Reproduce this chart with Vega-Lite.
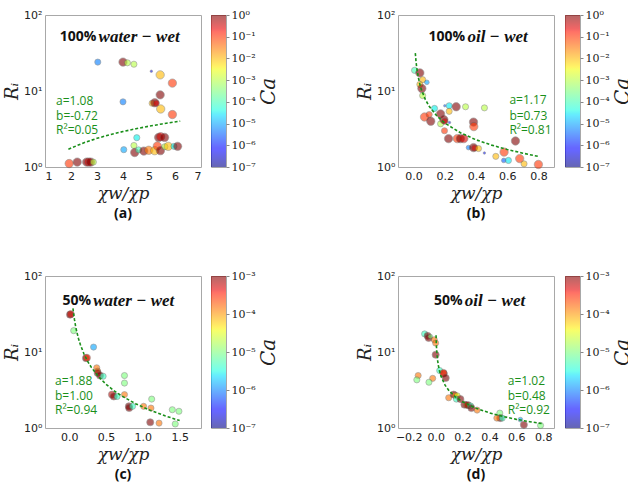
{
"$schema": "https://vega.github.io/schema/vega-lite/v6.json",
"padding": {"left": 3, "top": 8, "right": 0, "bottom": 0},
"background": "white",
"config": {
  "view": {"stroke": "#a8a8a8"},
  "axis": {"grid": false, "domain": false, "ticks": false, "labelFont": "DejaVu Sans", "labelFontSize": 11, "labelColor": "#222", "titleColor": "#222", "labelPadding": 3}
},
"resolve": {"scale": {"color": "independent", "size": "independent"}},
"datasets": {
  "pa": [
    {"x":3.03,"r":24,"ca":5e-6,"m":2},{"x":4.0,"r":24,"ca":1,"m":3},{"x":4.17,"r":23.5,"ca":1e-3,"m":2},{"x":4.42,"r":22.5,"ca":1e-3,"m":2},
    {"x":5.09,"r":18.2,"ca":5e-7,"m":1},{"x":5.43,"r":16.3,"ca":0.01,"m":3},{"x":5.9,"r":12.7,"ca":0.1,"m":3},{"x":5.43,"r":8.9,"ca":1,"m":3},
    {"x":4.0,"r":7.2,"ca":5e-6,"m":2},{"x":5.12,"r":6.9,"ca":0.01,"m":2},{"x":5.22,"r":7.0,"ca":1,"m":3},{"x":5.28,"r":6.9,"ca":0.3,"m":2},
    {"x":5.45,"r":5.8,"ca":0.01,"m":3},{"x":5.9,"r":4.9,"ca":0.1,"m":3},{"x":4.53,"r":2.43,"ca":4e-5,"m":2},{"x":5.37,"r":2.45,"ca":1,"m":3},
    {"x":5.45,"r":2.5,"ca":0.3,"m":3},{"x":5.6,"r":2.45,"ca":1,"m":3},{"x":4.03,"r":1.69,"ca":1e-5,"m":2},{"x":4.42,"r":1.92,"ca":1e-3,"m":2},
    {"x":4.45,"r":1.55,"ca":1,"m":3},{"x":4.6,"r":1.68,"ca":1e-4,"m":2},{"x":4.8,"r":1.62,"ca":1,"m":3},{"x":4.99,"r":1.66,"ca":0.03,"m":3},
    {"x":5.22,"r":1.64,"ca":0.01,"m":3},{"x":5.32,"r":1.89,"ca":0.1,"m":3},{"x":5.44,"r":1.64,"ca":1,"m":3},{"x":5.61,"r":1.85,"ca":1e-3,"m":2},
    {"x":5.74,"r":1.87,"ca":0.01,"m":3},{"x":5.96,"r":1.87,"ca":4e-5,"m":2},{"x":6.1,"r":1.87,"ca":1,"m":3},{"x":1.93,"r":1.11,"ca":0.1,"m":3},
    {"x":2.24,"r":1.16,"ca":1,"m":3},{"x":2.6,"r":1.16,"ca":1,"m":3},{"x":2.68,"r":1.16,"ca":0.3,"m":3},{"x":2.76,"r":1.16,"ca":1,"m":3},
    {"x":2.86,"r":1.16,"ca":1e-3,"m":2}
  ],
  "pb": [
    {"x":0.006,"r":18.7,"ca":1e-4,"m":2},{"x":0.04,"r":17.3,"ca":1,"m":3},{"x":0.058,"r":14.1,"ca":0.01,"m":2},{"x":0.085,"r":13,"ca":1e-5,"m":1.5},
    {"x":0.04,"r":12.2,"ca":0.01,"m":2},{"x":0.053,"r":10.8,"ca":1,"m":3},{"x":0.058,"r":8.7,"ca":1e-3,"m":2},{"x":0.134,"r":5.9,"ca":4e-5,"m":2},
    {"x":0.2,"r":6.4,"ca":3e-6,"m":1},{"x":0.228,"r":6.4,"ca":3e-5,"m":2},{"x":0.273,"r":6.2,"ca":1,"m":3},{"x":0.333,"r":6.2,"ca":1e-3,"m":2},
    {"x":0.454,"r":6.0,"ca":1e-3,"m":2},{"x":0.07,"r":4.55,"ca":0.1,"m":3},{"x":0.1,"r":4.9,"ca":0.1,"m":2},{"x":0.11,"r":4.0,"ca":1,"m":3},
    {"x":0.173,"r":5.0,"ca":1,"m":3},{"x":0.173,"r":3.7,"ca":1e-3,"m":2},{"x":0.194,"r":4.2,"ca":1,"m":3},{"x":0.2,"r":4.0,"ca":0.3,"m":2},
    {"x":0.228,"r":5.4,"ca":0.01,"m":2},{"x":0.198,"r":3.0,"ca":0.1,"m":2},{"x":0.384,"r":3.9,"ca":1,"m":3},{"x":0.386,"r":3.4,"ca":0.1,"m":3},
    {"x":0.224,"r":2.36,"ca":1,"m":3},{"x":0.28,"r":2.36,"ca":0.1,"m":3},{"x":0.3,"r":2.36,"ca":1,"m":3},{"x":0.322,"r":2.36,"ca":0.3,"m":3},
    {"x":0.352,"r":1.8,"ca":5e-6,"m":1.5},{"x":0.384,"r":1.8,"ca":1,"m":3},{"x":0.39,"r":1.78,"ca":0.3,"m":2},{"x":0.416,"r":1.75,"ca":0.01,"m":2},
    {"x":0.454,"r":1.53,"ca":1e-6,"m":1},{"x":0.23,"r":3.85,"ca":1e-6,"m":1},{"x":0.653,"r":2.2,"ca":1,"m":3},{"x":0.58,"r":1.57,"ca":0.1,"m":3},
    {"x":0.527,"r":1.38,"ca":0.01,"m":2},{"x":0.578,"r":1.22,"ca":3e-6,"m":1.5},{"x":0.608,"r":1.22,"ca":3e-5,"m":2},{"x":0.68,"r":1.29,"ca":0.1,"m":3},
    {"x":0.708,"r":1.1,"ca":0.01,"m":2},{"x":0.8,"r":1.08,"ca":0.1,"m":3}
  ],
  "pc": [
    {"x":0.01,"r":31,"ca":1e-3,"m":2.4},{"x":0.02,"r":31.5,"ca":5e-4,"m":2.4},{"x":0.06,"r":19.1,"ca":1e-5,"m":2},{"x":0.33,"r":11.6,"ca":1.3e-6,"m":2},
    {"x":0.227,"r":8.3,"ca":1e-3,"m":2.4},{"x":0.24,"r":8.4,"ca":3e-4,"m":2.4},{"x":0.373,"r":6.2,"ca":1.6e-4,"m":2},{"x":0.386,"r":5.6,"ca":1.6e-4,"m":2},
    {"x":0.386,"r":5.3,"ca":1e-3,"m":2.4},{"x":0.418,"r":4.9,"ca":1e-3,"m":2.4},{"x":0.46,"r":4.8,"ca":5e-6,"m":2},{"x":0.75,"r":4.9,"ca":1e-5,"m":2},
    {"x":0.75,"r":3.9,"ca":1e-5,"m":2},{"x":0.75,"r":2.75,"ca":1.6e-4,"m":2},{"x":0.58,"r":2.75,"ca":6e-4,"m":2.4},{"x":0.605,"r":2.6,"ca":1e-3,"m":2.4},
    {"x":0.65,"r":2.6,"ca":5e-6,"m":2},{"x":0.81,"r":1.93,"ca":1e-3,"m":2.4},{"x":0.814,"r":1.83,"ca":1e-3,"m":2.4},{"x":0.86,"r":1.93,"ca":5e-6,"m":2},
    {"x":1.01,"r":1.93,"ca":1.6e-4,"m":2},{"x":1.11,"r":1.83,"ca":1.6e-4,"m":2},{"x":1.12,"r":2.4,"ca":1e-5,"m":2},{"x":1.1,"r":1.19,"ca":1e-3,"m":2.4},
    {"x":1.22,"r":1.16,"ca":1.6e-4,"m":2},{"x":1.4,"r":1.74,"ca":1e-5,"m":2},{"x":1.49,"r":1.66,"ca":1e-5,"m":2},{"x":1.44,"r":1.13,"ca":1e-5,"m":2}
  ],
  "pd": [
    {"x":-0.082,"r":17.3,"ca":5e-6,"m":2},{"x":-0.06,"r":16.3,"ca":1e-3,"m":2.4},{"x":-0.052,"r":15.3,"ca":1e-3,"m":2.4},{"x":-0.04,"r":16,"ca":1e-5,"m":1.5},
    {"x":-0.01,"r":14.5,"ca":1.6e-4,"m":2},{"x":0.0,"r":13.1,"ca":1.6e-4,"m":2},{"x":0.0,"r":9.2,"ca":1e-3,"m":2.4},{"x":-0.13,"r":4.9,"ca":1.6e-4,"m":2},
    {"x":-0.14,"r":4.3,"ca":1e-5,"m":2},{"x":-0.022,"r":4.5,"ca":1.6e-4,"m":2},{"x":-0.05,"r":4.0,"ca":1e-5,"m":2},{"x":0.03,"r":5.7,"ca":5e-6,"m":2},
    {"x":0.06,"r":5.2,"ca":1e-3,"m":2.4},{"x":0.058,"r":5.3,"ca":3e-4,"m":2.4},{"x":0.075,"r":4.55,"ca":1e-3,"m":2.4},{"x":0.097,"r":2.5,"ca":1.6e-4,"m":2},
    {"x":0.134,"r":2.75,"ca":1e-3,"m":2.4},{"x":0.145,"r":2.7,"ca":1.6e-4,"m":2},{"x":0.16,"r":2.65,"ca":3e-5,"m":2},{"x":0.154,"r":2.4,"ca":5e-6,"m":2},
    {"x":0.184,"r":2.4,"ca":1e-3,"m":2.4},{"x":0.214,"r":2.03,"ca":1e-3,"m":2.4},{"x":0.23,"r":2.0,"ca":1.6e-4,"m":2},{"x":0.24,"r":2.0,"ca":1e-3,"m":2.4},
    {"x":0.26,"r":1.95,"ca":5e-6,"m":2},{"x":0.266,"r":1.83,"ca":1e-3,"m":2.4},{"x":0.308,"r":1.72,"ca":1.6e-4,"m":2},{"x":0.477,"r":1.57,"ca":1e-5,"m":2},
    {"x":0.48,"r":1.35,"ca":1e-3,"m":2.4},{"x":0.455,"r":1.35,"ca":1.6e-4,"m":2},{"x":0.495,"r":1.35,"ca":5e-6,"m":2},{"x":0.63,"r":1.29,"ca":1.3e-6,"m":1.5},
    {"x":0.656,"r":1.1,"ca":1e-3,"m":2.4},{"x":0.78,"r":1.08,"ca":1e-5,"m":2}
  ],
  "fa": [{"x":1.9,"r":1.714},{"x":2.5,"r":2.089},{"x":3,"r":2.382},{"x":3.5,"r":2.662},{"x":4,"r":2.93},{"x":4.5,"r":3.19},{"x":5,"r":3.441},{"x":5.5,"r":3.685},{"x":6.2,"r":4.018}],
  "fb": [{"x":0.011,"r":31.5},{"x":0.015,"r":25.1},{"x":0.02,"r":20.35},{"x":0.03,"r":15.13},{"x":0.04,"r":12.27},{"x":0.05,"r":10.42},{"x":0.075,"r":7.75},{"x":0.1,"r":6.28},{"x":0.15,"r":4.67},{"x":0.2,"r":3.79},{"x":0.3,"r":2.82},{"x":0.4,"r":2.28},{"x":0.5,"r":1.94},{"x":0.6,"r":1.7},{"x":0.7,"r":1.52},{"x":0.8,"r":1.377}],
  "fc": [{"x":0.05,"r":37.6},{"x":0.06,"r":31.33},{"x":0.07,"r":26.86},{"x":0.085,"r":22.12},{"x":0.1,"r":18.8},{"x":0.125,"r":15.04},{"x":0.15,"r":12.53},{"x":0.2,"r":9.4},{"x":0.25,"r":7.52},{"x":0.3,"r":6.27},{"x":0.4,"r":4.7},{"x":0.5,"r":3.76},{"x":0.6,"r":3.133},{"x":0.7,"r":2.686},{"x":0.9,"r":2.089},{"x":1.1,"r":1.709},{"x":1.3,"r":1.446},{"x":1.5,"r":1.253}],
  "fd": [{"x":0.003,"r":16.58},{"x":0.004,"r":14.44},{"x":0.005,"r":12.98},{"x":0.007,"r":11.04},{"x":0.01,"r":9.3},{"x":0.015,"r":7.66},{"x":0.02,"r":6.67},{"x":0.03,"r":5.49},{"x":0.04,"r":4.78},{"x":0.07,"r":3.66},{"x":0.1,"r":3.08},{"x":0.15,"r":2.54},{"x":0.2,"r":2.21},{"x":0.3,"r":1.82},{"x":0.4,"r":1.58},{"x":0.5,"r":1.42},{"x":0.6,"r":1.3},{"x":0.7,"r":1.21},{"x":0.8,"r":1.135}]
},
"vconcat": [
 {"resolve": {"scale": {"color": "independent", "size": "independent"}},
  "hconcat": [
  {"resolve": {"scale": {"color": "independent", "size": "independent"}},
   "hconcat": [
   {"width":156,"height":152,
    "title":{"text":"(a)","orient":"bottom","font":"Open Sans","fontWeight":"bold","fontSize":14,"color":"#111","offset":6},
    "encoding":{
      "x":{"field":"x","type":"quantitative","scale":{"domain":[1,7],"nice":false},"axis":{"values":[1,2,3,4,5,6,7],"format":"d","title":"χw/χp","titleFont":"DejaVu Serif","titleFontStyle":"italic","titleFontWeight":"normal","titleFontSize":17,"titlePadding":4}},
      "y":{"field":"r","type":"quantitative","scale":{"type":"log","domain":[1,100]},"axis":{"values":[1,10,100],"labelExpr":"datum.value < 5 ? '10⁰' : datum.value < 50 ? '10¹' : '10²'","title":"Rᵢ","titleFont":"DejaVu Serif","titleFontStyle":"italic","titleFontWeight":"normal","titleFontSize":18,"titlePadding":2}}
    },
    "layer":[
     {"data":{"name":"pa"},"mark":{"type":"circle","opacity":0.6,"stroke":"#555","strokeWidth":0.6},
      "encoding":{"color":{"field":"ca","type":"quantitative","legend":null,"scale":{"type":"log","domain":[1e-7,3.162e-7,1e-6,3.162e-6,1e-5,3.162e-5,1e-4,3.162e-4,1e-3,3.162e-3,1e-2,3.162e-2,0.1,0.3162,1],"range":["#000080","#0000d2","#0012ff","#005bff","#00a4ff","#06edf1","#41ffb6","#7bff7b","#b6ff41","#f1fc06","#ffb900","#ff7500","#ff3200","#d20000","#800000"]}},
       "size":{"field":"m","type":"quantitative","legend":null,"scale":{"domain":[1,3],"range":[6,70]}}}},
     {"data":{"name":"fa"},"mark":{"type":"line","color":"#1a8f1a","strokeDash":[3,2],"strokeWidth":1.6},"encoding":{}},
     {"data":{"values":[{"x":2.98,"r":52,"t":"100%"}]},"mark":{"type":"text","align":"right","baseline":"middle","font":"Open Sans","fontWeight":"bold","fontSize":14,"color":"#111"},"encoding":{"text":{"field":"t"}}},
     {"data":{"values":[{"x":3.06,"r":52,"t":"water − wet"}]},"mark":{"type":"text","align":"left","baseline":"middle","font":"Liberation Serif","fontStyle":"italic","fontWeight":"bold","fontSize":17,"color":"#111"},"encoding":{"text":{"field":"t"}}},
     {"data":{"values":[{"x":1.425,"r":7.38,"t":"a=1.08"},{"x":1.425,"r":4.65,"t":"b=-0.72"},{"x":1.425,"r":3.1,"t":"R²=0.05"}]},"mark":{"type":"text","align":"left","baseline":"middle","font":"Open Sans","fontSize":12,"color":"#1a8f1a"},"encoding":{"text":{"field":"t"}}}
    ]},
   {"width":15,"height":152,"data":{"values":[{"lo":1e-7,"hi":1}]},
    "mark":{"type":"rect","fillOpacity":0.6,"fill":{"gradient":"linear","x1":0,"y1":1,"x2":0,"y2":0,"stops":[{"offset":0,"color":"#000080"},{"offset":0.11,"color":"#0000ff"},{"offset":0.125,"color":"#0000ff"},{"offset":0.34,"color":"#00dbff"},{"offset":0.35,"color":"#00e6f7"},{"offset":0.375,"color":"#15ffe2"},{"offset":0.5,"color":"#7bff7b"},{"offset":0.64,"color":"#efff08"},{"offset":0.66,"color":"#ffec00"},{"offset":0.89,"color":"#ff1300"},{"offset":0.91,"color":"#e80000"},{"offset":1,"color":"#800000"}]}},
    "encoding":{"y":{"field":"lo","type":"quantitative","scale":{"type":"log","domain":[1e-7,1]},"axis":{"orient":"right","values":[1e-7,1e-6,1e-5,1e-4,1e-3,1e-2,1e-1,1],"labelExpr":"'10' + ['⁻⁷','⁻⁶','⁻⁵','⁻⁴','⁻³','⁻²','⁻¹','⁰'][round(log(datum.value)/LN10)+7]","labelFont":"DejaVu Serif","labelFontSize":11,"ticks":true,"tickSize":3,"tickColor":"#888","labelPadding":2,"title":"Ca","titleFont":"DejaVu Serif","titleFontStyle":"italic","titleFontWeight":"normal","titleFontSize":20,"titleAngle":270,"titleBaseline":"top","titlePadding":3}},
      "y2":{"field":"hi"}}}
  ], "spacing": 10, "bounds": "flush"},
  {"resolve": {"scale": {"color": "independent", "size": "independent"}},
   "hconcat": [
   {"width":156,"height":152,
    "title":{"text":"(b)","orient":"bottom","font":"Open Sans","fontWeight":"bold","fontSize":14,"color":"#111","offset":6},
    "encoding":{
      "x":{"field":"x","type":"quantitative","scale":{"domain":[-0.1,0.9],"nice":false},"axis":{"values":[0,0.2,0.4,0.6,0.8],"format":".1f","title":"χw/χp","titleFont":"DejaVu Serif","titleFontStyle":"italic","titleFontWeight":"normal","titleFontSize":17,"titlePadding":4}},
      "y":{"field":"r","type":"quantitative","scale":{"type":"log","domain":[1,100]},"axis":{"values":[1,10,100],"labelExpr":"datum.value < 5 ? '10⁰' : datum.value < 50 ? '10¹' : '10²'","title":"Rᵢ","titleFont":"DejaVu Serif","titleFontStyle":"italic","titleFontWeight":"normal","titleFontSize":18,"titlePadding":2}}
    },
    "layer":[
     {"data":{"name":"pb"},"mark":{"type":"circle","opacity":0.6,"stroke":"#555","strokeWidth":0.6},
      "encoding":{"color":{"field":"ca","type":"quantitative","legend":null,"scale":{"type":"log","domain":[1e-7,3.162e-7,1e-6,3.162e-6,1e-5,3.162e-5,1e-4,3.162e-4,1e-3,3.162e-3,1e-2,3.162e-2,0.1,0.3162,1],"range":["#000080","#0000d2","#0012ff","#005bff","#00a4ff","#06edf1","#41ffb6","#7bff7b","#b6ff41","#f1fc06","#ffb900","#ff7500","#ff3200","#d20000","#800000"]}},
       "size":{"field":"m","type":"quantitative","legend":null,"scale":{"domain":[1,3],"range":[6,70]}}}},
     {"data":{"name":"fb"},"mark":{"type":"line","color":"#1a8f1a","strokeDash":[3,2],"strokeWidth":1.6},"encoding":{}},
     {"data":{"values":[{"x":0.33,"r":52,"t":"100%"}]},"mark":{"type":"text","align":"right","baseline":"middle","font":"Open Sans","fontWeight":"bold","fontSize":14,"color":"#111"},"encoding":{"text":{"field":"t"}}},
     {"data":{"values":[{"x":0.345,"r":52,"t":"oil − wet"}]},"mark":{"type":"text","align":"left","baseline":"middle","font":"Liberation Serif","fontStyle":"italic","fontWeight":"bold","fontSize":17,"color":"#111"},"encoding":{"text":{"field":"t"}}},
     {"data":{"values":[{"x":0.614,"r":7.6,"t":"a=1.17"},{"x":0.614,"r":4.75,"t":"b=0.73"},{"x":0.614,"r":3.1,"t":"R²=0.81"}]},"mark":{"type":"text","align":"left","baseline":"middle","font":"Open Sans","fontSize":12,"color":"#1a8f1a"},"encoding":{"text":{"field":"t"}}}
    ]},
   {"width":15,"height":152,"data":{"values":[{"lo":1e-7,"hi":1}]},
    "mark":{"type":"rect","fillOpacity":0.6,"fill":{"gradient":"linear","x1":0,"y1":1,"x2":0,"y2":0,"stops":[{"offset":0,"color":"#000080"},{"offset":0.11,"color":"#0000ff"},{"offset":0.125,"color":"#0000ff"},{"offset":0.34,"color":"#00dbff"},{"offset":0.35,"color":"#00e6f7"},{"offset":0.375,"color":"#15ffe2"},{"offset":0.5,"color":"#7bff7b"},{"offset":0.64,"color":"#efff08"},{"offset":0.66,"color":"#ffec00"},{"offset":0.89,"color":"#ff1300"},{"offset":0.91,"color":"#e80000"},{"offset":1,"color":"#800000"}]}},
    "encoding":{"y":{"field":"lo","type":"quantitative","scale":{"type":"log","domain":[1e-7,1]},"axis":{"orient":"right","values":[1e-7,1e-6,1e-5,1e-4,1e-3,1e-2,1e-1,1],"labelExpr":"'10' + ['⁻⁷','⁻⁶','⁻⁵','⁻⁴','⁻³','⁻²','⁻¹','⁰'][round(log(datum.value)/LN10)+7]","labelFont":"DejaVu Serif","labelFontSize":11,"ticks":true,"tickSize":3,"tickColor":"#888","labelPadding":2,"title":"Ca","titleFont":"DejaVu Serif","titleFontStyle":"italic","titleFontWeight":"normal","titleFontSize":20,"titleAngle":270,"titleBaseline":"top","titlePadding":3}},
      "y2":{"field":"hi"}}}
  ], "spacing": 11, "bounds": "flush"}
 ], "spacing": 77},
 {"resolve": {"scale": {"color": "independent", "size": "independent"}},
  "hconcat": [
  {"resolve": {"scale": {"color": "independent", "size": "independent"}},
   "hconcat": [
   {"width":156,"height":152,
    "title":{"text":"(c)","orient":"bottom","font":"Open Sans","fontWeight":"bold","fontSize":14,"color":"#111","offset":6},
    "encoding":{
      "x":{"field":"x","type":"quantitative","scale":{"domain":[-0.33,1.79],"nice":false},"axis":{"values":[0,0.5,1,1.5],"format":".1f","title":"χw/χp","titleFont":"DejaVu Serif","titleFontStyle":"italic","titleFontWeight":"normal","titleFontSize":17,"titlePadding":4}},
      "y":{"field":"r","type":"quantitative","scale":{"type":"log","domain":[1,100]},"axis":{"values":[1,10,100],"labelExpr":"datum.value < 5 ? '10⁰' : datum.value < 50 ? '10¹' : '10²'","title":"Rᵢ","titleFont":"DejaVu Serif","titleFontStyle":"italic","titleFontWeight":"normal","titleFontSize":18,"titlePadding":2}}
    },
    "layer":[
     {"data":{"name":"pc"},"mark":{"type":"circle","opacity":0.6,"stroke":"#555","strokeWidth":0.6},
      "encoding":{"color":{"field":"ca","type":"quantitative","legend":null,"scale":{"type":"log","domain":[1e-7,3.162e-7,1e-6,3.162e-6,1e-5,3.162e-5,1e-4,3.162e-4,1e-3],"range":["#000080","#0000ff","#0080ff","#15ffe2","#7bff7b","#e2ff15","#ff9700","#ff2100","#800000"]}},
       "size":{"field":"m","type":"quantitative","legend":null,"scale":{"domain":[1,3],"range":[6,70]}}}},
     {"data":{"name":"fc"},"mark":{"type":"line","color":"#1a8f1a","strokeDash":[3,2],"strokeWidth":1.6},"encoding":{}},
     {"data":{"values":[{"x":0.298,"r":47.4,"t":"50%"}]},"mark":{"type":"text","align":"right","baseline":"middle","font":"Open Sans","fontWeight":"bold","fontSize":14,"color":"#111"},"encoding":{"text":{"field":"t"}}},
     {"data":{"values":[{"x":0.325,"r":47.4,"t":"water − wet"}]},"mark":{"type":"text","align":"left","baseline":"middle","font":"Liberation Serif","fontStyle":"italic","fontWeight":"bold","fontSize":17,"color":"#111"},"encoding":{"text":{"field":"t"}}},
     {"data":{"values":[{"x":-0.194,"r":4.2,"t":"a=1.88"},{"x":-0.194,"r":2.64,"t":"b=1.00"},{"x":-0.194,"r":1.75,"t":"R²=0.94"}]},"mark":{"type":"text","align":"left","baseline":"middle","font":"Open Sans","fontSize":12,"color":"#1a8f1a"},"encoding":{"text":{"field":"t"}}}
    ]},
   {"width":15,"height":152,"data":{"values":[{"lo":1e-7,"hi":1e-3}]},
    "mark":{"type":"rect","fillOpacity":0.6,"fill":{"gradient":"linear","x1":0,"y1":1,"x2":0,"y2":0,"stops":[{"offset":0,"color":"#000080"},{"offset":0.11,"color":"#0000ff"},{"offset":0.125,"color":"#0000ff"},{"offset":0.34,"color":"#00dbff"},{"offset":0.35,"color":"#00e6f7"},{"offset":0.375,"color":"#15ffe2"},{"offset":0.5,"color":"#7bff7b"},{"offset":0.64,"color":"#efff08"},{"offset":0.66,"color":"#ffec00"},{"offset":0.89,"color":"#ff1300"},{"offset":0.91,"color":"#e80000"},{"offset":1,"color":"#800000"}]}},
    "encoding":{"y":{"field":"lo","type":"quantitative","scale":{"type":"log","domain":[1e-7,1e-3]},"axis":{"orient":"right","values":[1e-7,1e-6,1e-5,1e-4,1e-3],"labelExpr":"'10' + ['⁻⁷','⁻⁶','⁻⁵','⁻⁴','⁻³','⁻²','⁻¹','⁰'][round(log(datum.value)/LN10)+7]","labelFont":"DejaVu Serif","labelFontSize":11,"ticks":true,"tickSize":3,"tickColor":"#888","labelPadding":2,"title":"Ca","titleFont":"DejaVu Serif","titleFontStyle":"italic","titleFontWeight":"normal","titleFontSize":20,"titleAngle":270,"titleBaseline":"top","titlePadding":3}},
      "y2":{"field":"hi"}}}
  ], "spacing": 10, "bounds": "flush"},
  {"resolve": {"scale": {"color": "independent", "size": "independent"}},
   "hconcat": [
   {"width":156,"height":152,
    "title":{"text":"(d)","orient":"bottom","font":"Open Sans","fontWeight":"bold","fontSize":14,"color":"#111","offset":6},
    "encoding":{
      "x":{"field":"x","type":"quantitative","scale":{"domain":[-0.28,0.88],"nice":false},"axis":{"values":[-0.2,0,0.2,0.4,0.6,0.8],"format":".1f","title":"χw/χp","titleFont":"DejaVu Serif","titleFontStyle":"italic","titleFontWeight":"normal","titleFontSize":17,"titlePadding":4}},
      "y":{"field":"r","type":"quantitative","scale":{"type":"log","domain":[1,100]},"axis":{"values":[1,10,100],"labelExpr":"datum.value < 5 ? '10⁰' : datum.value < 50 ? '10¹' : '10²'","title":"Rᵢ","titleFont":"DejaVu Serif","titleFontStyle":"italic","titleFontWeight":"normal","titleFontSize":18,"titlePadding":2}}
    },
    "layer":[
     {"data":{"name":"pd"},"mark":{"type":"circle","opacity":0.6,"stroke":"#555","strokeWidth":0.6},
      "encoding":{"color":{"field":"ca","type":"quantitative","legend":null,"scale":{"type":"log","domain":[1e-7,3.162e-7,1e-6,3.162e-6,1e-5,3.162e-5,1e-4,3.162e-4,1e-3],"range":["#000080","#0000ff","#0080ff","#15ffe2","#7bff7b","#e2ff15","#ff9700","#ff2100","#800000"]}},
       "size":{"field":"m","type":"quantitative","legend":null,"scale":{"domain":[1,3],"range":[6,70]}}}},
     {"data":{"name":"fd"},"mark":{"type":"line","color":"#1a8f1a","strokeDash":[3,2],"strokeWidth":1.6},"encoding":{}},
     {"data":{"values":[{"x":0.2,"r":47.4,"t":"50%"}]},"mark":{"type":"text","align":"right","baseline":"middle","font":"Open Sans","fontWeight":"bold","fontSize":14,"color":"#111"},"encoding":{"text":{"field":"t"}}},
     {"data":{"values":[{"x":0.217,"r":47.4,"t":"oil − wet"}]},"mark":{"type":"text","align":"left","baseline":"middle","font":"Liberation Serif","fontStyle":"italic","fontWeight":"bold","fontSize":17,"color":"#111"},"encoding":{"text":{"field":"t"}}},
     {"data":{"values":[{"x":0.536,"r":4.2,"t":"a=1.02"},{"x":0.536,"r":2.64,"t":"b=0.48"},{"x":0.536,"r":1.75,"t":"R²=0.92"}]},"mark":{"type":"text","align":"left","baseline":"middle","font":"Open Sans","fontSize":12,"color":"#1a8f1a"},"encoding":{"text":{"field":"t"}}}
    ]},
   {"width":15,"height":152,"data":{"values":[{"lo":1e-7,"hi":1e-3}]},
    "mark":{"type":"rect","fillOpacity":0.6,"fill":{"gradient":"linear","x1":0,"y1":1,"x2":0,"y2":0,"stops":[{"offset":0,"color":"#000080"},{"offset":0.11,"color":"#0000ff"},{"offset":0.125,"color":"#0000ff"},{"offset":0.34,"color":"#00dbff"},{"offset":0.35,"color":"#00e6f7"},{"offset":0.375,"color":"#15ffe2"},{"offset":0.5,"color":"#7bff7b"},{"offset":0.64,"color":"#efff08"},{"offset":0.66,"color":"#ffec00"},{"offset":0.89,"color":"#ff1300"},{"offset":0.91,"color":"#e80000"},{"offset":1,"color":"#800000"}]}},
    "encoding":{"y":{"field":"lo","type":"quantitative","scale":{"type":"log","domain":[1e-7,1e-3]},"axis":{"orient":"right","values":[1e-7,1e-6,1e-5,1e-4,1e-3],"labelExpr":"'10' + ['⁻⁷','⁻⁶','⁻⁵','⁻⁴','⁻³','⁻²','⁻¹','⁰'][round(log(datum.value)/LN10)+7]","labelFont":"DejaVu Serif","labelFontSize":11,"ticks":true,"tickSize":3,"tickColor":"#888","labelPadding":2,"title":"Ca","titleFont":"DejaVu Serif","titleFontStyle":"italic","titleFontWeight":"normal","titleFontSize":20,"titleAngle":270,"titleBaseline":"top","titlePadding":3}},
      "y2":{"field":"hi"}}}
  ], "spacing": 11, "bounds": "flush"}
 ], "spacing": 77}
],
"spacing": 47
}
